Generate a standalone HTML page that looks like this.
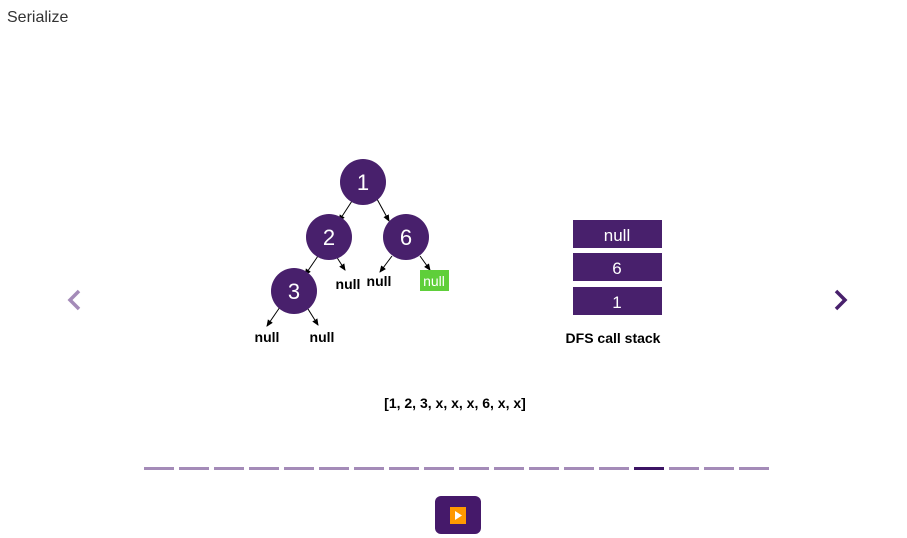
<!DOCTYPE html>
<html><head><meta charset="utf-8"><style>
body{margin:0;width:907px;height:538px;background:#fff;font-family:"Liberation Sans",sans-serif;overflow:hidden;position:relative}
</style></head><body>
<div style="position:absolute;left:7px;top:9px;font-size:16px;color:#333">Serialize</div>
<svg width="907" height="538" style="position:absolute;left:0;top:0">
<defs><marker id="a" markerWidth="8" markerHeight="8" refX="6" refY="4" orient="auto"><path d="M0,1 L7,4 L0,7z" fill="#000"/></marker></defs>
<g stroke="#000" stroke-width="1" marker-end="url(#a)">
<line x1="352" y1="201" x2="339" y2="221"/>
<line x1="377" y1="199" x2="389" y2="221"/>
<line x1="318" y1="256" x2="305" y2="275"/>
<line x1="336" y1="256" x2="345" y2="270"/>
<line x1="392" y1="256" x2="380" y2="272"/>
<line x1="420" y1="256" x2="430" y2="270"/>
<line x1="280" y1="307" x2="267" y2="326"/>
<line x1="308" y1="309" x2="318" y2="325"/>
</g>
<g fill="#48206c">
<circle cx="363" cy="182" r="23"/><circle cx="329" cy="237" r="23"/><circle cx="406" cy="237" r="23"/><circle cx="294" cy="291" r="23"/>
</g>
<g fill="#fff" font-size="22" text-anchor="middle">
<text x="363" y="190">1</text><text x="329" y="245">2</text><text x="406" y="245">6</text><text x="294" y="299">3</text>
</g>
<rect x="420" y="270" width="29" height="21" fill="#5fcf3a"/>
<g font-size="14" font-weight="bold" text-anchor="middle">
<text x="348" y="289">null</text><text x="379" y="286">null</text><text x="434" y="286" fill="#fff" font-weight="normal">null</text>
<text x="267" y="342">null</text><text x="322" y="342">null</text>
</g>
<g fill="#48206c">
<rect x="573" y="220" width="89" height="28"/><rect x="573" y="253" width="89" height="28"/><rect x="573" y="287" width="89" height="28"/>
</g>
<g fill="#fff" font-size="17" text-anchor="middle"><text x="617" y="241">null</text><text x="617" y="274">6</text><text x="617" y="308">1</text></g>
<text x="613" y="343" font-size="14" font-weight="bold" text-anchor="middle">DFS call stack</text>
<text x="455" y="408" font-size="14" font-weight="bold" text-anchor="middle">[1, 2, 3, x, x, x, 6, x, x]</text>
<path d="M79,291 L70,300 L79,309" stroke="#a48bb8" stroke-width="3.5" fill="none"/>
<path d="M836,291 L845,300 L836,309" stroke="#48206c" stroke-width="3.5" fill="none"/>
<g id="dots"></g>
<g>
<rect x="435" y="496" width="46" height="38" rx="6" fill="#45196a"/>
<rect x="450" y="507" width="16" height="17" fill="#f90"/>
<path d="M455,511 L462,515.5 L455,520z" fill="#fff"/>
</g>
</svg>
<script>
const g=document.getElementById('dots');
for(let i=0;i<18;i++){const r=document.createElementNS('http://www.w3.org/2000/svg','rect');
r.setAttribute('x',144+i*35);r.setAttribute('y',467);r.setAttribute('width',30);r.setAttribute('height',3);
r.setAttribute('fill',i==14?'#3c1464':'#a48bb8');


g.appendChild(r);}
</script>
</body></html>
